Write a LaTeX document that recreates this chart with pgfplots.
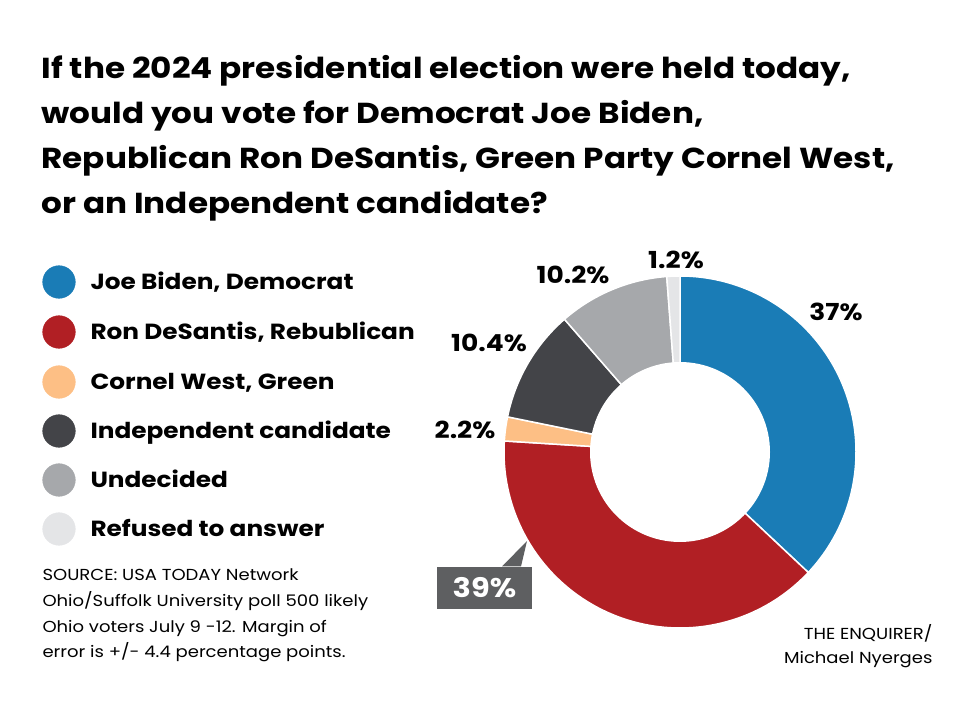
\documentclass[border=0pt]{standalone}
\usepackage{fontspec}
\setmainfont{Poppins}[FakeStretch=1.13]
\usepackage{pgfplots}
\pgfplotsset{compat=1.18}
\definecolor{biden}{RGB}{26,124,182}
\definecolor{desantis}{RGB}{177,31,36}
\definecolor{west}{RGB}{253,191,133}
\definecolor{indep}{RGB}{67,68,72}
\definecolor{undec}{RGB}{166,168,171}
\definecolor{refused}{RGB}{228,229,231}
\definecolor{boxgray}{RGB}{94,95,97}
\definecolor{txt}{RGB}{35,31,32}
% start (cumulative %), value (%), colour
\newcommand{\slice}[3]{%
  \addplot[fill=#3, draw=white, line width=1.5pt, domain=0:1, samples=90, variable=\t]
    ({680+176*cos(90-3.6*(#1+#2*\t))},{268+176*sin(90-3.6*(#1+#2*\t))})
    -- (axis cs:680,268) -- cycle;}
\begin{document}
\begin{tikzpicture}
\begin{axis}[
  scale only axis, width=960bp, height=720bp,
  xmin=0, xmax=960, ymin=0, ymax=720,
  hide axis, ticks=none, clip=false,
  every node/.style={text=txt},
]
\path (axis cs:0,0) rectangle (axis cs:960,720);
% donut: values 37, 39, 2.2, 10.4, 10.2, 1.2
\slice{0}{37}{biden}
\slice{37}{39}{desantis}
\slice{76}{2.2}{west}
\slice{78.2}{10.4}{indep}
\slice{88.6}{10.2}{undec}
\slice{98.8}{1.2}{refused}
\addplot[fill=white, draw=none, domain=0:360, samples=120] ({680+90*cos(x)},{268+90*sin(x)}) -- cycle;

% title
\node[anchor=base west, font=\fontsize{29}{29}\selectfont\bfseries] at (axis cs:38,641) {If the 2024 presidential election were held today,};
\node[anchor=base west, font=\fontsize{29}{29}\selectfont\bfseries] at (axis cs:38,596) {would you vote for Democrat Joe Biden,};
\node[anchor=base west, font=\fontsize{29}{29}\selectfont\bfseries] at (axis cs:38,551) {Republican Ron DeSantis, Green Party Cornel West,};
\node[anchor=base west, font=\fontsize{29}{29}\selectfont\bfseries] at (axis cs:38,506) {or an Independent candidate?};

% legend markers
\addplot[only marks, mark=*, mark size=16.4pt, color=biden] coordinates {(59,438)};
\addplot[only marks, mark=*, mark size=16.4pt, color=desantis] coordinates {(59,388)};
\addplot[only marks, mark=*, mark size=16.4pt, color=west] coordinates {(59,338)};
\addplot[only marks, mark=*, mark size=16.4pt, color=indep] coordinates {(59,289)};
\addplot[only marks, mark=*, mark size=16.4pt, color=undec] coordinates {(59,240)};
\addplot[only marks, mark=*, mark size=16.4pt, color=refused] coordinates {(59,191)};
\node[anchor=base west, font=\fontsize{22}{22}\selectfont\bfseries] at (axis cs:87,430) {Joe Biden, Democrat};
\node[anchor=base west, font=\fontsize{22}{22}\selectfont\bfseries] at (axis cs:87,380) {Ron DeSantis, Rebublican};
\node[anchor=base west, font=\fontsize{22}{22}\selectfont\bfseries] at (axis cs:87,330) {Cornel West, Green};
\node[anchor=base west, font=\fontsize{22}{22}\selectfont\bfseries] at (axis cs:87,281) {Independent candidate};
\node[anchor=base west, font=\fontsize{22}{22}\selectfont\bfseries] at (axis cs:87,232) {Undecided};
\node[anchor=base west, font=\fontsize{22}{22}\selectfont\bfseries] at (axis cs:87,183) {Refused to answer};

% source
\node[anchor=base west, font=\fontsize{16}{16}\selectfont] at (axis cs:39,139) {SOURCE: USA TODAY Network};
\node[anchor=base west, font=\fontsize{16}{16}\selectfont] at (axis cs:39,113) {Ohio/Suffolk University poll 500 likely};
\node[anchor=base west, font=\fontsize{16}{16}\selectfont] at (axis cs:39,87) {Ohio voters July 9 -12. Margin of};
\node[anchor=base west, font=\fontsize{16}{16}\selectfont] at (axis cs:39,62) {error is +/- 4.4 percentage points.};
% credit
\node[anchor=base east, font=\fontsize{16}{16}\selectfont] at (axis cs:936,80) {THE ENQUIRER/};
\node[anchor=base east, font=\fontsize{16}{16}\selectfont] at (axis cs:936,56) {Michael Nyerges};

% value labels
\node[font=\fontsize{23.5}{23.5}\selectfont\bfseries] at (axis cs:836,408) {37\%};
\node[font=\fontsize{23.5}{23.5}\selectfont\bfseries] at (axis cs:489,377) {10.4\%};
\node[font=\fontsize{23.5}{23.5}\selectfont\bfseries] at (axis cs:465,290) {2.2\%};
\node[font=\fontsize{23.5}{23.5}\selectfont\bfseries] at (axis cs:573,445) {10.2\%};
\node[font=\fontsize{23.5}{23.5}\selectfont\bfseries] at (axis cs:676,460) {1.2\%};

% 39% callout
\fill[boxgray] (axis cs:502,153.5) -- (axis cs:527,179) -- (axis cs:521,153.5) -- cycle;
\fill[boxgray] (axis cs:437,111) rectangle (axis cs:532,153);
\node[font=\fontsize{27}{27}\selectfont\bfseries, text=white] at (axis cs:484.5,132) {39\%};
\end{axis}
\end{tikzpicture}
\end{document}
